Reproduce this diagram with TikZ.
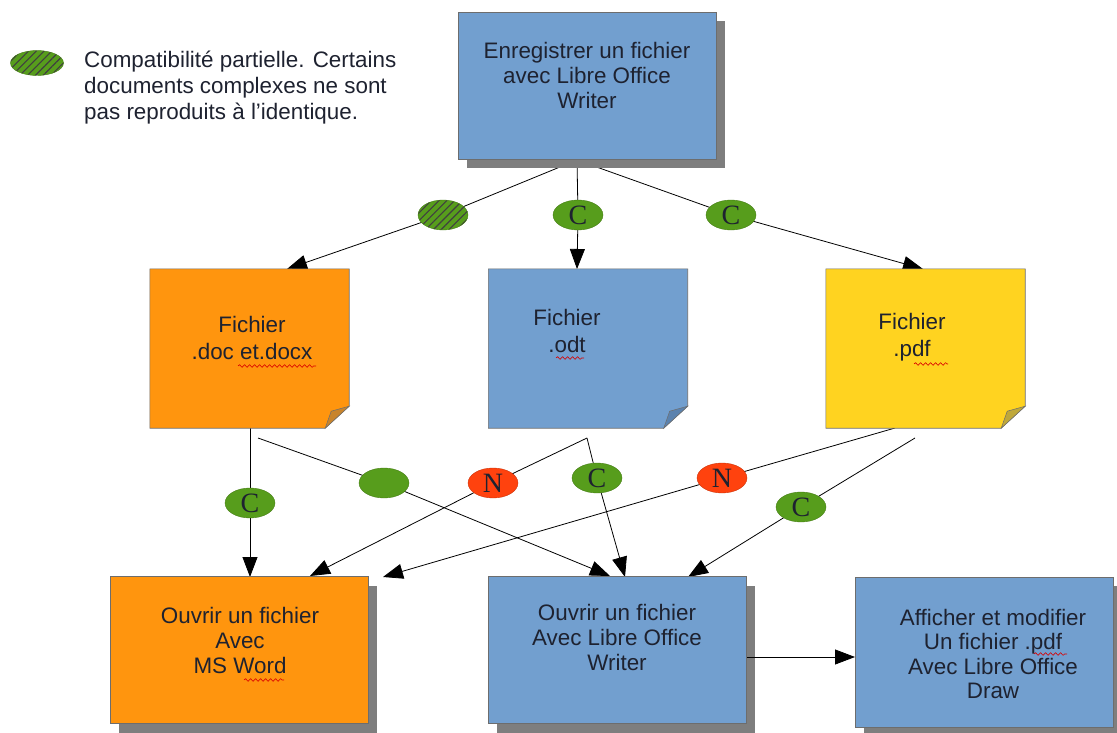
\documentclass[tikz,border=0pt]{standalone}
\usepackage{fontspec}
\setmainfont{Liberation Sans}
\newfontfamily\letterfont{Liberation Serif}
\usetikzlibrary{shapes.geometric,arrows.meta,patterns,patterns.meta,shadows,backgrounds,decorations.pathmorphing}

\definecolor{lblue}{HTML}{729FCF}
\definecolor{lorange}{HTML}{FF950E}
\definecolor{lyellow}{HTML}{FFD320}
\definecolor{lgreen}{HTML}{579D1C}
\definecolor{lred}{HTML}{FF420E}
\definecolor{bordergray}{HTML}{6D6D6D}
\definecolor{shadowgray}{HTML}{7E7E7E}
\definecolor{txt}{HTML}{1E2230}
\definecolor{flaporange}{HTML}{C8842C}
\definecolor{flapblue}{HTML}{5B82AE}
\definecolor{flapyellow}{HTML}{BFA83A}

\tikzset{
  box/.style={rectangle, draw=bordergray, line width=0.6pt, inner sep=0pt,
    minimum width=258pt, minimum height=147pt,
    drop shadow={shadow xshift=9pt, shadow yshift=-9pt, fill=shadowgray, opacity=1}},
  docarea/.style={rectangle, draw=none, inner sep=0pt, minimum width=199pt, minimum height=159pt},
  label/.style={align=center, text=txt, font=\fontsize{22.4}{25}\selectfont, inner sep=0pt},
  ell/.style={ellipse, minimum width=50pt, minimum height=30pt, inner sep=0pt,
    fill=lgreen, draw=lgreen!80!black, line width=0.4pt, text=txt,
    font=\letterfont\fontsize{28}{28}\selectfont},
  redell/.style={ell, fill=lred, draw=lred!80!black},
  hatch/.style={ell, preaction={fill=lgreen}, pattern={Lines[angle=45,distance=5.5pt,line width=1.1pt]}, pattern color=black!75},
  conn/.style={draw=black, line width=0.8pt},
  arr/.style={conn, -{Triangle[length=20pt,width=15pt]}},
  squig/.style={draw=red!85!black, line width=0.6pt, decorate, decoration={snake, amplitude=1.3pt, segment length=5pt}},
}

\begin{document}
\begin{tikzpicture}[x=1pt,y=-1pt]
\useasboundingbox (0,0) rectangle (1117,733);

% legend
\node[hatch, minimum width=53pt, minimum height=25pt] (leg) at (37,63) {};
\node[label, align=left, anchor=west, font=\fontsize{22.4}{26}\selectfont] (legtxt) at (84,88)
  {Compatibilité partielle. Certains\\documents complexes ne sont\\pas reproduits à l'identique.};

% top box
\node[box, fill=lblue] (top) at (587,86) {};
\node[label] (toptxt) at (587,75) {Enregistrer un fichier\\avec Libre Office\\Writer};

% document boxes
\node[docarea] (doc1) at (249.5,348.5) {};
\node[docarea] (doc2) at (588,348.5) {};
\node[docarea] (doc3) at (925.5,348.5) {};
\foreach \d/\c/\f in {doc1/lorange/flaporange, doc2/lblue/flapblue, doc3/lyellow/flapyellow}{
  \filldraw[fill=\c, draw=bordergray, line width=0.6pt] (\d.north west) -- (\d.north east)
    -- ([yshift=22pt]\d.south east) -- ([xshift=-24pt]\d.south east) -- (\d.south west) -- cycle;
  \filldraw[fill=\f, draw=bordergray, line width=0.5pt] ([yshift=22pt]\d.south east)
    -- ([xshift=-24pt]\d.south east) -- ([xshift=-18pt,yshift=17pt]\d.south east) -- cycle;
}
\node[label, font=\fontsize{22.4}{27}\selectfont] (doc1txt) at (252,338) {Fichier\\.doc et.docx};
\node[label, font=\fontsize{22.4}{27}\selectfont] (doc2txt) at (567,331) {Fichier\\.odt};
\node[label, font=\fontsize{22.4}{27}\selectfont] (doc3txt) at (912,337) {Fichier\\.pdf};

% bottom boxes
\node[box, fill=lorange] (word) at (239,650) {};
\node[label] (wordtxt) at (240,640) {Ouvrir un fichier\\Avec\\MS Word};
\node[box, fill=lblue] (lowriter) at (617,650) {};
\node[label] (lowritertxt) at (617,637) {Ouvrir un fichier\\Avec Libre Office\\Writer};
\node[box, fill=lblue, minimum height=150pt] (lodraw) at (984,652) {};
\node[label, font=\fontsize{22.4}{24.5}\selectfont] (lodrawtxt) at (993,654) {Afficher et modifier\\Un fichier .pdf\\Avec Libre Office\\Draw};

% spell-check squiggles
\draw[squig] (238,366) -- (316,366);
\draw[squig] (556,358) -- (584,358);
\draw[squig] (914,364) -- (948,364);
\draw[squig] (244,680) -- (284,680);
\draw[squig] (1034,654) -- (1067,654);

% ellipses
\node[hatch] (e1) at (443,215) {};
\node[ell] (e2) at (578,215) {C};
\node[ell] (e3) at (731,215) {C};
\node[ell] (e4) at (250,503) {C};
\node[ell] (e5) at (384,483) {};
\node[redell] (e6) at (493,483) {N};
\node[ell] (e7) at (597,478) {C};
\node[redell] (e8) at (722,478) {N};
\node[ell] (e9) at (801,507) {C};

% connector end points
\coordinate (split) at (577,160);
\coordinate (t1) at (287,269);
\coordinate (t2) at (577,269);
\coordinate (t3) at (923,269);
\coordinate (s4) at (250,428);
\coordinate (t4) at (250,577);
\coordinate (s5) at (258,438);
\coordinate (t5) at (610,576);
\coordinate (s67) at (587,438);
\coordinate (t6) at (310,576);
\coordinate (t7) at (625,577);
\coordinate (s8) at (895,428);
\coordinate (t8) at (383,577);
\coordinate (s9) at (915,438);
\coordinate (t9) at (688,577);
\coordinate (s10) at (747,657);
\coordinate (t10) at (855,657);

\draw[arr] (s10) -- (t10);

\begin{scope}[on background layer]
\fill[white] (0,0) rectangle (1117,733);
\draw[conn] (split) -- (e1.center); \draw[arr] (e1.center) -- (t1);
\draw[conn] (split) -- (e2.center); \draw[arr] (e2.center) -- (t2);
\draw[conn] (split) -- (e3.center); \draw[arr] (e3.center) -- (t3);
\draw[conn] (s4) -- (e4.center); \draw[arr] (e4.center) -- (t4);
\draw[conn] (s5) -- (e5.center); \draw[arr] (e5.center) -- (t5);
\draw[conn] (s67) -- (e6.center); \draw[arr] (e6.center) -- (t6);
\draw[conn] (s67) -- (e7.center); \draw[arr] (e7.center) -- (t7);
\draw[conn] (s8) -- (e8.center); \draw[arr] (e8.center) -- (t8);
\draw[conn] (s9) -- (e9.center); \draw[arr] (e9.center) -- (t9);
\end{scope}
\end{tikzpicture}
\end{document}
